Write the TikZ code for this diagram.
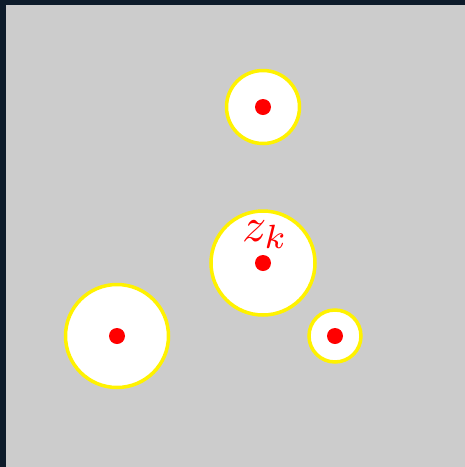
\documentclass[tikz,border=0pt]{standalone}
\begin{document}
\begin{tikzpicture}[x=1pt,y=-1pt,
  disk/.style={circle,draw=yellow,line width=3.5pt,fill=white,inner sep=0pt},
  dot/.style={circle,fill=red,inner sep=0pt,minimum size=16pt}]
\definecolor{frame}{HTML}{0D1B2A}
\definecolor{bg}{HTML}{CCCCCC}
\useasboundingbox (0,0) rectangle (465,467);
\fill[frame] (0,0) rectangle (465,467);
\fill[bg] (6,5) rectangle (465,467);
\node[disk,minimum size=73pt] (c1) at (263,107) {};
\node[disk,minimum size=104pt] (c2) at (263,263) {};
\node[disk,minimum size=103pt] (c3) at (117,336) {};
\node[disk,minimum size=52pt] (c4) at (335,336) {};
\node[dot] (d1) at (c1.center) {};
\node[dot] (d2) at (c2.center) {};
\node[dot] (d3) at (c3.center) {};
\node[dot] (d4) at (c4.center) {};
\node[text=red,scale=4.8,inner sep=0pt] (lab) at (265,235) {$z_k$};
\end{tikzpicture}
\end{document}
